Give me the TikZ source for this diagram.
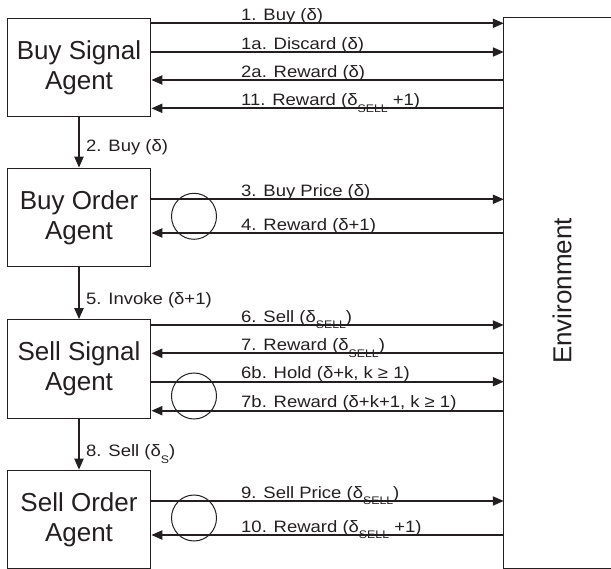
\documentclass[tikz,border=0pt]{standalone}
\usepackage{fontspec}
\setmainfont{Liberation Sans}
\newfontfamily\lblfont[FakeStretch=1.12]{Liberation Sans}
\usetikzlibrary{arrows.meta,shapes.geometric}
\definecolor{ink}{HTML}{231F20}
\newcommand{\lsub}[1]{\raisebox{-0.4em}{\fontsize{11}{11}\selectfont #1}}
\begin{document}
\begin{tikzpicture}[x=1pt,y=-1pt,
  agent/.style={draw=ink, line width=1.3pt, minimum width=143.4pt, minimum height=98.4pt,
    align=center, font=\fontsize{26}{30}\selectfont, text=ink, inner sep=0pt},
  msg/.style={draw=ink, line width=2pt, -{Triangle[length=11pt,width=9pt]}},
  lbl/.style={anchor=base west, font=\lblfont\fontsize{16.5}{20}\selectfont, text=ink, inner sep=0pt},
  loopmark/.style={draw=ink, line width=1pt, ellipse, minimum width=45pt, minimum height=46pt, inner sep=0pt}]
\useasboundingbox (0,0) rectangle (611,569);

% agents
\node[agent] (bsa) at (79,67.5) {Buy Signal\\Agent};
\node[agent] (boa) at (79,217.5) {Buy Order\\Agent};
\node[agent] (ssa) at (79,369) {Sell Signal\\Agent};
\node[agent] (soa) at (79,519.6) {Sell Order\\Agent};

% environment
\node[minimum width=107pt, minimum height=550pt, inner sep=0pt] (env) at (557.5,293) {};
\draw[ink, line width=1.3pt] (env.north east) -- (env.north west) -- (env.south west) -- (env.south east);
\node[rotate=90, font=\fontsize{26}{30}\selectfont, text=ink] (envtext) at (562,291) {Environment};

% vertical connectors
\draw[msg] (bsa.south) -- (boa.north);
\draw[msg] (boa.south) -- (ssa.north);
\draw[msg] (ssa.south) -- (soa.north);
\node[lbl] (l2) at (86,152) {2. Buy (δ)};
\node[lbl] (l5) at (86,304.5) {5. Invoke (δ+1)};
\node[lbl] (l8) at (86,456.5) {8. Sell (δ\lsub{S})};

% buy signal agent messages
\draw[msg] (bsa.east |- 0,23.3) -- (env.west |- 0,23.3);
\draw[msg] (bsa.east |- 0,52) -- (env.west |- 0,52);
\draw[msg] (env.west |- 0,80) -- (bsa.east |- 0,80);
\draw[msg] (env.west |- 0,108.3) -- (bsa.east |- 0,108.3);
\node[lbl] (l1) at (241,20.6) {1. Buy (δ)};
\node[lbl] (l1a) at (241,49.3) {1a. Discard (δ)};
\node[lbl] (l2a) at (241,77.3) {2a. Reward (δ)};
\node[lbl] (l11) at (241,105.6) {11. Reward (δ\lsub{SELL} +1)};

% buy order agent messages
\draw[msg] (boa.east |- 0,199.3) -- (env.west |- 0,199.3);
\draw[msg] (env.west |- 0,233) -- (boa.east |- 0,233);
\node[lbl] (l3) at (241,196.6) {3. Buy Price (δ)};
\node[lbl] (l4) at (241,230.3) {4. Reward (δ+1)};
\node[loopmark] (c1) at (194,216.3) {};

% sell signal agent messages
\draw[msg] (ssa.east |- 0,325) -- (env.west |- 0,325);
\draw[msg] (env.west |- 0,353.3) -- (ssa.east |- 0,353.3);
\draw[msg] (ssa.east |- 0,381.7) -- (env.west |- 0,381.7);
\draw[msg] (env.west |- 0,410.7) -- (ssa.east |- 0,410.7);
\node[lbl] (l6) at (241,322.3) {6. Sell (δ\lsub{SELL})};
\node[lbl] (l7) at (241,350.6) {7. Reward (δ\lsub{SELL})};
\node[lbl] (l6b) at (241,379) {6b. Hold (δ+k, k ≥ 1)};
\node[lbl] (l7b) at (241,408) {7b. Reward (δ+k+1, k ≥ 1)};
\node[loopmark] (c2) at (194,396) {};

% sell order agent messages
\draw[msg] (soa.east |- 0,501) -- (env.west |- 0,501);
\draw[msg] (env.west |- 0,535) -- (soa.east |- 0,535);
\node[lbl] (l9) at (241,498.3) {9. Sell Price (δ\lsub{SELL})};
\node[lbl] (l10) at (241,532.3) {10. Reward (δ\lsub{SELL} +1)};
\node[loopmark] (c3) at (194,518) {};
\end{tikzpicture}
\end{document}
